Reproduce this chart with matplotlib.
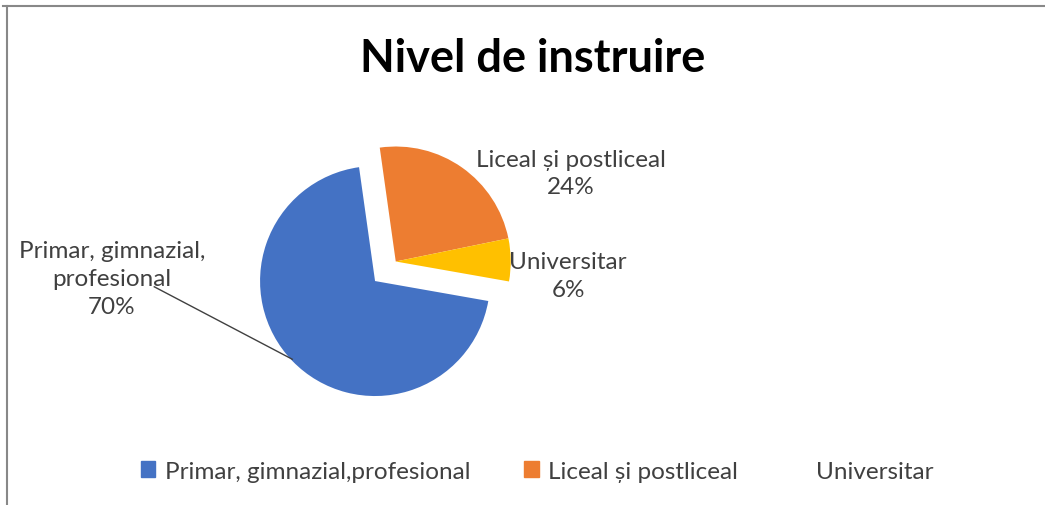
import matplotlib.pyplot as plt
from matplotlib.patches import Patch

labels = ['Primar, gimnazial,profesional', 'Liceal și postliceal', 'Universitar']
label_text = ['Primar, gimnazial,\nprofesional', 'Liceal și postliceal', 'Universitar']
values = [70, 24, 6]
colors = ['#4472C4', '#ED7D31', '#FFC000']

plt.rcParams['font.family'] = ['Lato', 'DejaVu Sans']

fig = plt.figure(figsize=(10.45, 5.06), dpi=100)

# chart frame lines (top and left, like the clipped Excel box)
fig.add_artist(plt.Line2D([3 / 1045, 1], [1 - 7 / 506] * 2, color='#888888', lw=1.5))
fig.add_artist(plt.Line2D([7 / 1045] * 2, [0, 1 - 7 / 506], color='#888888', lw=1.5))

ax = fig.add_axes([0.1388, -0.0119, 0.4402, 0.909])
wedges, _ = ax.pie(values, colors=colors, startangle=-10, counterclock=False,
                   radius=1, wedgeprops=dict(linewidth=0))
# pull out the two smaller slices together
for w in wedges[1:]:
    w.set_center((0.18, 0.17))
ax.set_xlim(-2, 2)
ax.set_ylim(-2, 2)
ax.axis('off')

tc = '#404040'
fs = 17.5
ax.text(1.70, 0.94, f'{label_text[1]}\n{values[1]}%', ha='center', va='center',
        fontsize=fs, color=tc, linespacing=1.4)
ax.text(1.68, 0.05, f'{label_text[2]}\n{values[2]}%', ha='center', va='center',
        fontsize=fs, color=tc, linespacing=1.4)
ax.text(-2.29, 0.02, f'{label_text[0]}\n{values[0]}%', ha='center', va='center',
        fontsize=fs, color=tc, linespacing=1.4, clip_on=False)
ax.plot([-1.92, -0.72], [-0.05, -0.68], color='#404040', lw=1, clip_on=False)

fig.text(0.51, 0.883, 'Nivel de instruire', ha='center', va='center',
         fontsize=32.5, fontweight='bold', color='black')

handles = [Patch(color=colors[0]), Patch(color=colors[1]), Patch(color='none')]
fig.legend(handles, labels, loc='center', bbox_to_anchor=(0.514, 0.067), ncol=3,
           frameon=False, fontsize=fs, handlelength=0.6, handleheight=0.6,
           handletextpad=0.4, columnspacing=2.2, labelcolor=tc)

fig.savefig('out.png', dpi=100)
